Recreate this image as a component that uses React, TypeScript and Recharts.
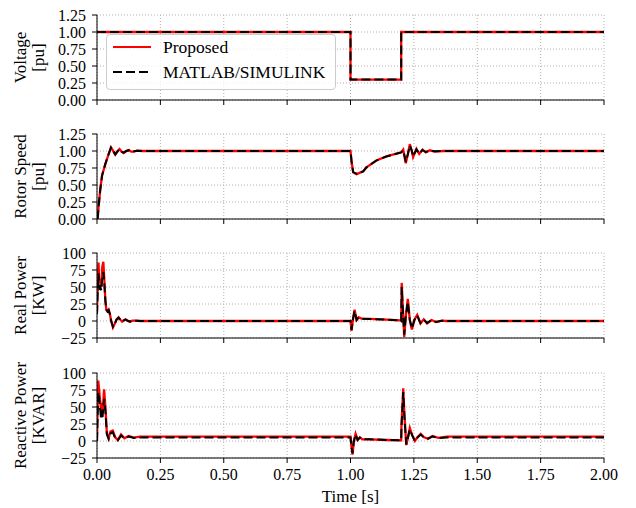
import React from 'react';
import { LineChart, Line, XAxis, YAxis, CartesianGrid } from 'recharts';

const FONT = '"Liberation Serif", "Times New Roman", serif';

const TIME_TICKS = [0, 0.25, 0.5, 0.75, 1, 1.25, 1.5, 1.75, 2];

// Voltage [pu]
const VOLT_T = [0, 1.0, 1.0, 1.2, 1.2, 2.0];
const VOLT_PROPOSED = [1, 1, 0.3, 0.3, 1, 1];
const VOLT_SIMULINK = [1, 1, 0.3, 0.3, 1, 1];
const PU_TICKS = [0, 0.25, 0.5, 0.75, 1, 1.25];

// Rotor speed [pu]
const SPEED_T = [
  0, 0.003, 0.0066, 0.013, 0.02, 0.033, 0.046, 0.055, 0.063, 0.072, 0.082, 0.089, 0.097, 0.105, 0.116, 0.125,
  0.135, 0.145, 0.158, 0.178, 1.0, 1.004, 1.0105, 1.024, 1.05, 1.063, 1.102, 1.142, 1.181, 1.2, 1.208, 1.213,
  1.218, 1.226, 1.234, 1.242, 1.247, 1.26, 1.271, 1.284, 1.297, 1.313, 1.333, 1.366, 2.0,
];
const SPEED_PROPOSED = [
  0, 0.02, 0.2, 0.44, 0.64, 0.81, 0.956, 1.054, 1.005, 0.946, 1.0, 1.03, 0.99, 0.97, 1.0, 1.015,
  0.99, 0.99, 1.005, 1.0, 1.0, 0.85, 0.686, 0.66, 0.7, 0.76, 0.86, 0.92, 0.96, 0.98, 1.02, 0.92,
  0.82, 0.95, 1.1, 1.0, 0.91, 1.03, 0.956, 1.02, 0.98, 1.01, 0.99, 1.0, 1.0,
];
const SPEED_SIMULINK = [
  0, 0.02, 0.2, 0.44, 0.64, 0.81, 0.955, 1.05, 1.005, 0.95, 1.0, 1.025, 0.99, 0.975, 1.0, 1.012,
  0.99, 0.995, 1.003, 1.0, 1.0, 0.85, 0.69, 0.665, 0.7, 0.76, 0.86, 0.92, 0.96, 0.98, 1.01, 0.93,
  0.84, 0.95, 1.08, 1.0, 0.92, 1.025, 0.96, 1.015, 0.985, 1.005, 0.995, 1.0, 1.0,
];

// Real power [KW]
const REAL_T = [
  0, 0.003, 0.006, 0.009, 0.013, 0.017, 0.021, 0.025, 0.029, 0.033, 0.037, 0.041, 0.046, 0.051, 0.056, 0.063,
  0.07, 0.077, 0.085, 0.092, 0.099, 0.106, 0.113, 0.12, 0.13, 0.14, 0.155, 0.17, 1.0, 1.004, 1.0105, 1.016,
  1.024, 1.032, 1.043, 1.076, 1.142, 1.195, 1.2, 1.202, 1.206, 1.212, 1.218, 1.226, 1.234, 1.242, 1.252,
  1.263, 1.276, 1.289, 1.302, 1.32, 1.337, 1.36, 1.38, 2.0,
];
const REAL_PROPOSED = [
  14, 60, 86, 55, 62, 50, 80, 87, 60, 30, 16, 15, 17, 10, 0, -9.5,
  -4, 2, 5.5, 2, -1, 1, 2.5, 0.5, -1, 0.5, 0.5, 0, 0, -14.5, 4, 16.5,
  1.5, 5.5, 3.5, 3, 2, 1, 0, 56, 21.5, -23.5, 6.5, 32.5, 1.5, -12.5, 1.5,
  9, -3.5, 2.5, -3.5, 1.5, -1.5, 0.5, 0, 0,
];
const REAL_SIMULINK = [
  10, 45, 70, 48, 50, 45, 65, 72, 55, 30, 17, 14, 16, 10, 0, -8.5,
  -4, 2, 5, 2, -1, 1, 2, 0.5, -1, 0.5, 0.5, 0, 0, -13, 4, 15,
  1.5, 5, 3.5, 3, 2, 1, 0, 50, 20, -20, 6, 28, 1.5, -11, 1.5,
  8, -3, 2, -3, 1.5, -1.5, 0.5, 0, 0,
];
const KW_TICKS = [-25, 0, 25, 50, 75, 100];

// Reactive power [KVAR]
const REACT_T = [
  0, 0.002, 0.005, 0.0105, 0.016, 0.018, 0.022, 0.028, 0.033, 0.039, 0.046, 0.053, 0.062, 0.072, 0.082, 0.095,
  0.108, 0.125, 0.145, 0.17, 1.0, 1.004, 1.008, 1.013, 1.02, 1.028, 1.037, 1.047, 1.076, 1.142, 1.195, 1.2,
  1.201, 1.208, 1.213, 1.22, 1.226, 1.234, 1.243, 1.254, 1.264, 1.277, 1.29, 1.306, 1.323, 1.346, 1.38, 2.0,
];
const REACT_PROPOSED = [
  0, 40, 89, 66, 46, 56, 41, 76, 51, 11, 4, 14, 15.5, 5.5, 1.5, 9.5,
  4, 7.5, 5, 6.5, 6.5, -8.5, -20, -1, 10.5, 1.5, 5.5, 2.5, 2.5, 1.5, 1, 1,
  21.5, 77.5, 36.5, -6, 4, 19, 9, 0, 5.5, 10.5, 5.5, 3.5, 7.5, 4.5, 6.5, 6.5,
];
const REACT_SIMULINK = [
  0, 30, 72, 55, 32, 45, 35, 62, 45, 10, 3, 11, 13, 4, 1, 8,
  4, 6.5, 4.5, 5, 5, -8, -18, -1, 9.5, 1.5, 5, 2.5, 2.5, 1.5, 1, 1,
  20, 72, 34, -5, 4, 17, 8.5, 0, 5, 9.5, 5, 3.5, 6.5, 4.5, 5, 5,
];
const KVAR_TICKS = [-25, 0, 25, 50, 75, 100];

const SERIES = [
  { key: 'proposed', name: 'Proposed', color: '#ff0000', width: 2.3, dash: undefined as string | undefined },
  { key: 'simulink', name: 'MATLAB/SIMULINK', color: '#000000', width: 2, dash: '9 4' },
];

const toRows = (t: number[], a: number[], b: number[]) =>
  t.map((x, i) => ({ t: x, proposed: a[i], simulink: b[i] }));

const fmt2 = (v: number) => v.toFixed(2);
const fmtInt = (v: number) => (v < 0 ? '\u2212' + Math.abs(v) : String(v));

const PLOT_H = 85;
const Y_AXIS_W = 97;
const RIGHT = 32;
const M_TOP = 12;

function YLabel(props: any) {
  const { viewBox, lines } = props;
  const vb = viewBox || { y: M_TOP, height: PLOT_H };
  const cy = vb.y + vb.height / 2;
  return (
    <text
      transform={`translate(26, ${cy}) rotate(-90)`}
      textAnchor="middle"
      fontFamily={FONT}
      fontSize={17}
      fill="#000"
    >
      {lines.map((s: string, i: number) => (
        <tspan key={s} x={0} y={i * 18}>
          {s}
        </tspan>
      ))}
    </text>
  );
}

const HiddenTick = () => <g />;

interface PanelProps {
  top: number;
  rows: { t: number; proposed: number; simulink: number }[];
  domain: [number, number];
  ticks: number[];
  fmt: (v: number) => string;
  lines: string[];
  bottom?: boolean;
}

function Panel({ top, rows, domain, ticks, fmt, lines, bottom }: PanelProps) {
  const xAxisH = bottom ? 50 : 10;
  const tickStyle = { fill: '#000', fontSize: 16, fontFamily: FONT };
  return (
    <div style={{ position: 'absolute', left: 0, top: top - M_TOP }}>
      <LineChart
        width={636}
        height={M_TOP + PLOT_H + xAxisH}
        data={rows}
        margin={{ top: M_TOP, right: RIGHT, bottom: 0, left: 0 }}
      >
        <CartesianGrid stroke="#b0b0b0" strokeDasharray="1 2" />
        <XAxis
          dataKey="t"
          type="number"
          domain={[0, 2]}
          allowDataOverflow
          ticks={TIME_TICKS}
          interval={0}
          height={xAxisH}
          tickSize={5}
          tickMargin={6}
          axisLine={{ stroke: '#000' }}
          tickLine={{ stroke: '#000' }}
          tick={bottom ? tickStyle : <HiddenTick />}
          tickFormatter={fmt2}
          label={
            bottom
              ? { value: 'Time [s]', position: 'insideBottom', offset: 6, fill: '#000', fontSize: 17, fontFamily: FONT }
              : undefined
          }
        />
        <XAxis
          xAxisId="top"
          dataKey="t"
          orientation="top"
          type="number"
          domain={[0, 2]}
          allowDataOverflow
          height={0}
          tick={false}
          tickLine={false}
          axisLine={{ stroke: '#000' }}
        />
        <YAxis
          type="number"
          domain={domain}
          allowDataOverflow
          ticks={ticks}
          interval={0}
          width={Y_AXIS_W}
          tickSize={5}
          tickMargin={6}
          axisLine={{ stroke: '#000' }}
          tickLine={{ stroke: '#000' }}
          tick={tickStyle}
          tickFormatter={fmt}
          label={<YLabel lines={lines} />}
        />
        <YAxis
          yAxisId="right"
          orientation="right"
          type="number"
          domain={domain}
          allowDataOverflow
          width={0}
          tick={false}
          tickLine={false}
          axisLine={{ stroke: '#000' }}
        />
        {SERIES.map((s) => (
          <Line
            key={s.key}
            type="linear"
            dataKey={s.key}
            name={s.name}
            stroke={s.color}
            strokeWidth={s.width}
            strokeDasharray={s.dash}
            dot={false}
            isAnimationActive={false}
          />
        ))}
      </LineChart>
    </div>
  );
}

function LegendBox() {
  return (
    <div
      style={{
        position: 'absolute',
        left: 106,
        top: 34,
        width: 230,
        height: 56,
        boxSizing: 'border-box',
        border: '1px solid #cccccc',
        borderRadius: 4,
        background: 'rgba(255,255,255,0.8)',
        fontFamily: FONT,
        fontSize: 17.5,
        color: '#000',
      }}
    >
      {SERIES.map((s, i) => (
        <div key={s.key} style={{ position: 'absolute', left: 5, top: 2 + i * 25, height: 20, display: 'flex', alignItems: 'center' }}>
          <svg width={40} height={10} style={{ display: 'block' }}>
            <line x1={1} y1={5} x2={39} y2={5} stroke={s.color} strokeWidth={2} strokeDasharray={s.dash} />
          </svg>
          <span style={{ marginLeft: 11, lineHeight: '20px', whiteSpace: 'nowrap' }}>{s.name}</span>
        </div>
      ))}
    </div>
  );
}

export default function App() {
  return (
    <div style={{ position: 'absolute', left: 0, top: 0, width: 636, height: 508, background: '#fff' }}>
      <Panel top={15} rows={toRows(VOLT_T, VOLT_PROPOSED, VOLT_SIMULINK)} domain={[0, 1.25]} ticks={PU_TICKS} fmt={fmt2} lines={['Voltage', '[pu]']} />
      <Panel top={134} rows={toRows(SPEED_T, SPEED_PROPOSED, SPEED_SIMULINK)} domain={[0, 1.25]} ticks={PU_TICKS} fmt={fmt2} lines={['Rotor Speed', '[pu]']} />
      <Panel top={253} rows={toRows(REAL_T, REAL_PROPOSED, REAL_SIMULINK)} domain={[-25, 100]} ticks={KW_TICKS} fmt={fmtInt} lines={['Real Power', '[KW]']} />
      <Panel top={373} rows={toRows(REACT_T, REACT_PROPOSED, REACT_SIMULINK)} domain={[-25, 100]} ticks={KVAR_TICKS} fmt={fmtInt} lines={['Reactive Power', '[KVAR]']} bottom />
      <LegendBox />
    </div>
  );
}
